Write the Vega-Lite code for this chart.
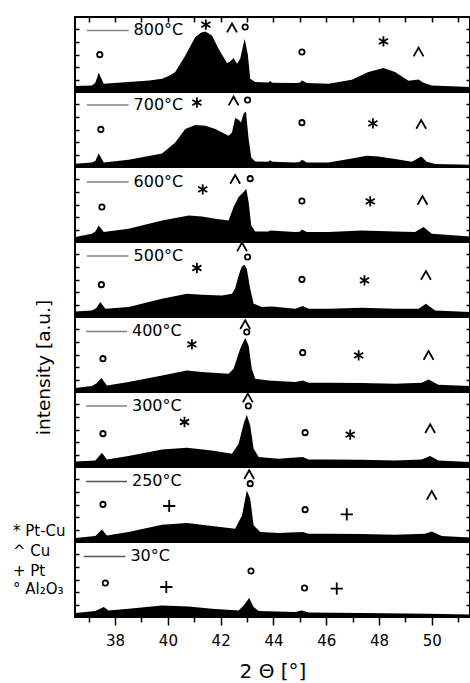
{
"$schema":"https://vega.github.io/schema/vega-lite/v6.json",
"padding":{"left":11,"top":14,"right":1,"bottom":2},
"bounds":"flush",
"spacing":0,
"config":{"font":"DejaVu Sans","view":{"stroke":"black","strokeWidth":2},"text":{"font":"DejaVu Sans","color":"black"},"axis":{"domain":false,"grid":false,"tickColor":"black","tickWidth":1.5,"labelFont":"DejaVu Sans","titleFont":"DejaVu Sans","titleFontWeight":"normal","labelColor":"black","titleColor":"black"}},
"datasets":{
"curves":[
{"temp":800,"theta":36.49,"v":0.48},{"temp":800,"theta":37.12,"v":0.53},{"temp":800,"theta":37.25,"v":0.75},{"temp":800,"theta":37.38,"v":1.55},{"temp":800,"theta":37.57,"v":0.67},{"temp":800,"theta":38.51,"v":0.80},{"temp":800,"theta":39.3,"v":0.92},{"temp":800,"theta":39.78,"v":1.07},{"temp":800,"theta":40.05,"v":1.3},{"temp":800,"theta":40.28,"v":1.60},{"temp":800,"theta":40.66,"v":2.93},{"temp":800,"theta":41.04,"v":4.40},{"temp":800,"theta":41.25,"v":4.75},{"temp":800,"theta":41.42,"v":4.85},{"temp":800,"theta":41.67,"v":4.53},{"temp":800,"theta":41.92,"v":3.47},{"temp":800,"theta":42.24,"v":2.32},{"temp":800,"theta":42.36,"v":2.45},{"temp":800,"theta":42.49,"v":2.72},{"temp":800,"theta":42.62,"v":2.27},{"temp":800,"theta":42.74,"v":2.67},{"temp":800,"theta":42.91,"v":4.27},{"temp":800,"theta":43.03,"v":3.00},{"temp":800,"theta":43.12,"v":1.07},{"temp":800,"theta":43.31,"v":0.80},{"temp":800,"theta":43.80,"v":0.76},{"temp":800,"theta":43.88,"v":0.88},{"temp":800,"theta":43.96,"v":0.74},{"temp":800,"theta":44.83,"v":0.72},{"temp":800,"theta":45.0,"v":0.75},{"temp":800,"theta":45.08,"v":0.93},{"temp":800,"theta":45.27,"v":0.72},{"temp":800,"theta":46.09,"v":0.67},{"temp":800,"theta":46.97,"v":0.98},{"temp":800,"theta":47.60,"v":1.60},{"temp":800,"theta":48.17,"v":1.92},{"temp":800,"theta":48.61,"v":1.60},{"temp":800,"theta":49.12,"v":0.90},{"temp":800,"theta":49.50,"v":1.00},{"temp":800,"theta":49.69,"v":0.75},{"temp":800,"theta":50.00,"v":0.53},{"temp":800,"theta":51.45,"v":0.40},
{"temp":700,"theta":36.49,"v":0.27},{"temp":700,"theta":37.12,"v":0.37},{"temp":700,"theta":37.25,"v":0.48},{"temp":700,"theta":37.38,"v":1.09},{"temp":700,"theta":37.57,"v":0.37},{"temp":700,"theta":38.51,"v":0.59},{"temp":700,"theta":39.78,"v":1.09},{"temp":700,"theta":40.28,"v":1.97},{"temp":700,"theta":40.66,"v":3.04},{"temp":700,"theta":41.04,"v":3.36},{"temp":700,"theta":41.42,"v":3.31},{"temp":700,"theta":41.80,"v":3.04},{"temp":700,"theta":42.30,"v":2.51},{"temp":700,"theta":42.43,"v":2.77},{"temp":700,"theta":42.55,"v":3.92},{"temp":700,"theta":42.68,"v":3.79},{"temp":700,"theta":42.77,"v":3.57},{"temp":700,"theta":42.87,"v":4.29},{"temp":700,"theta":42.96,"v":4.45},{"temp":700,"theta":43.06,"v":2.24},{"temp":700,"theta":43.16,"v":0.77},{"temp":700,"theta":43.31,"v":0.45},{"temp":700,"theta":43.80,"v":0.43},{"temp":700,"theta":43.88,"v":0.55},{"temp":700,"theta":43.96,"v":0.42},{"temp":700,"theta":44.83,"v":0.37},{"temp":700,"theta":45.0,"v":0.40},{"temp":700,"theta":45.08,"v":0.59},{"temp":700,"theta":45.27,"v":0.37},{"temp":700,"theta":46.09,"v":0.37},{"temp":700,"theta":46.97,"v":0.69},{"temp":700,"theta":47.54,"v":0.91},{"temp":700,"theta":47.98,"v":0.85},{"temp":700,"theta":48.61,"v":0.64},{"temp":700,"theta":49.25,"v":0.43},{"temp":700,"theta":49.60,"v":0.85},{"temp":700,"theta":49.81,"v":0.43},{"temp":700,"theta":50.13,"v":0.24},{"temp":700,"theta":51.45,"v":0.19},
{"temp":600,"theta":36.49,"v":0.40},{"temp":600,"theta":37.12,"v":0.67},{"temp":600,"theta":37.25,"v":0.85},{"temp":600,"theta":37.38,"v":1.33},{"temp":600,"theta":37.57,"v":0.80},{"temp":600,"theta":38.51,"v":1.07},{"temp":600,"theta":39.78,"v":1.73},{"temp":600,"theta":40.79,"v":2.13},{"temp":600,"theta":41.29,"v":2.05},{"temp":600,"theta":41.80,"v":1.87},{"temp":600,"theta":42.30,"v":1.73},{"temp":600,"theta":42.49,"v":2.80},{"temp":600,"theta":42.68,"v":3.60},{"temp":600,"theta":42.87,"v":4.00},{"temp":600,"theta":42.97,"v":4.27},{"temp":600,"theta":43.06,"v":3.20},{"temp":600,"theta":43.16,"v":1.33},{"temp":600,"theta":43.31,"v":0.85},{"temp":600,"theta":43.80,"v":0.85},{"temp":600,"theta":43.88,"v":0.93},{"temp":600,"theta":44.83,"v":0.80},{"temp":600,"theta":45.0,"v":0.82},{"temp":600,"theta":45.08,"v":1.01},{"temp":600,"theta":45.27,"v":0.80},{"temp":600,"theta":46.09,"v":0.80},{"temp":600,"theta":47.35,"v":0.93},{"temp":600,"theta":48.61,"v":0.85},{"temp":600,"theta":49.37,"v":0.80},{"temp":600,"theta":49.69,"v":1.20},{"temp":600,"theta":50.00,"v":0.67},{"temp":600,"theta":51.45,"v":0.45},
{"temp":500,"theta":36.49,"v":0.45},{"temp":500,"theta":37.12,"v":0.53},{"temp":500,"theta":37.28,"v":0.70},{"temp":500,"theta":37.44,"v":1.20},{"temp":500,"theta":37.63,"v":0.67},{"temp":500,"theta":38.51,"v":0.80},{"temp":500,"theta":39.78,"v":1.47},{"temp":500,"theta":40.72,"v":1.87},{"temp":500,"theta":41.29,"v":1.79},{"temp":500,"theta":42.05,"v":1.73},{"temp":500,"theta":42.43,"v":1.87},{"temp":500,"theta":42.55,"v":2.30},{"temp":500,"theta":42.68,"v":3.30},{"temp":500,"theta":42.80,"v":4.05},{"temp":500,"theta":42.90,"v":4.19},{"temp":500,"theta":42.99,"v":3.87},{"temp":500,"theta":43.12,"v":2.27},{"temp":500,"theta":43.25,"v":1.07},{"temp":500,"theta":43.56,"v":0.80},{"temp":500,"theta":43.94,"v":0.85},{"temp":500,"theta":44.83,"v":0.67},{"temp":500,"theta":45.11,"v":0.88},{"temp":500,"theta":45.33,"v":0.67},{"temp":500,"theta":46.09,"v":0.67},{"temp":500,"theta":47.35,"v":0.75},{"temp":500,"theta":48.61,"v":0.67},{"temp":500,"theta":49.50,"v":0.67},{"temp":500,"theta":49.78,"v":1.07},{"temp":500,"theta":50.13,"v":0.53},{"temp":500,"theta":51.45,"v":0.40},
{"temp":400,"theta":36.49,"v":0.32},{"temp":400,"theta":37.12,"v":0.48},{"temp":400,"theta":37.30,"v":0.70},{"temp":400,"theta":37.48,"v":1.12},{"temp":400,"theta":37.69,"v":0.53},{"temp":400,"theta":38.51,"v":0.80},{"temp":400,"theta":39.78,"v":1.33},{"temp":400,"theta":40.72,"v":1.73},{"temp":400,"theta":41.29,"v":1.60},{"temp":400,"theta":42.30,"v":1.47},{"temp":400,"theta":42.49,"v":1.87},{"temp":400,"theta":42.74,"v":3.47},{"temp":400,"theta":42.93,"v":4.32},{"temp":400,"theta":43.06,"v":3.73},{"temp":400,"theta":43.18,"v":1.87},{"temp":400,"theta":43.31,"v":1.07},{"temp":400,"theta":43.81,"v":0.93},{"temp":400,"theta":44.83,"v":0.80},{"temp":400,"theta":45.11,"v":0.93},{"temp":400,"theta":45.33,"v":0.75},{"temp":400,"theta":46.09,"v":0.75},{"temp":400,"theta":47.35,"v":0.72},{"temp":400,"theta":48.61,"v":0.67},{"temp":400,"theta":49.62,"v":0.75},{"temp":400,"theta":49.88,"v":1.01},{"temp":400,"theta":50.25,"v":0.59},{"temp":400,"theta":51.45,"v":0.48},
{"temp":300,"theta":36.49,"v":0.45},{"temp":300,"theta":37.25,"v":0.53},{"temp":300,"theta":37.50,"v":1.15},{"temp":300,"theta":37.69,"v":0.61},{"temp":300,"theta":38.51,"v":0.88},{"temp":300,"theta":39.78,"v":1.41},{"temp":300,"theta":40.72,"v":1.55},{"temp":300,"theta":41.67,"v":1.33},{"temp":300,"theta":42.43,"v":1.07},{"temp":300,"theta":42.68,"v":1.87},{"temp":300,"theta":42.87,"v":3.47},{"temp":300,"theta":42.99,"v":4.19},{"temp":300,"theta":43.12,"v":3.33},{"temp":300,"theta":43.25,"v":1.47},{"temp":300,"theta":43.44,"v":0.80},{"temp":300,"theta":44.19,"v":0.67},{"temp":300,"theta":45.11,"v":0.80},{"temp":300,"theta":45.33,"v":0.61},{"temp":300,"theta":46.09,"v":0.61},{"temp":300,"theta":47.35,"v":0.59},{"temp":300,"theta":48.61,"v":0.53},{"temp":300,"theta":49.62,"v":0.61},{"temp":300,"theta":49.94,"v":0.88},{"temp":300,"theta":50.25,"v":0.53},{"temp":300,"theta":51.45,"v":0.40},
{"temp":250,"theta":36.49,"v":0.32},{"temp":250,"theta":37.25,"v":0.48},{"temp":250,"theta":37.50,"v":1.01},{"temp":250,"theta":37.69,"v":0.53},{"temp":250,"theta":38.51,"v":0.80},{"temp":250,"theta":39.78,"v":1.39},{"temp":250,"theta":40.72,"v":1.52},{"temp":250,"theta":41.67,"v":1.28},{"temp":250,"theta":42.55,"v":1.07},{"temp":250,"theta":42.81,"v":2.13},{"temp":250,"theta":42.99,"v":4.13},{"temp":250,"theta":43.12,"v":3.47},{"temp":250,"theta":43.25,"v":1.33},{"temp":250,"theta":43.50,"v":0.80},{"temp":250,"theta":44.19,"v":0.72},{"temp":250,"theta":45.11,"v":0.80},{"temp":250,"theta":45.33,"v":0.67},{"temp":250,"theta":46.09,"v":0.67},{"temp":250,"theta":47.35,"v":0.64},{"temp":250,"theta":48.61,"v":0.59},{"temp":250,"theta":49.75,"v":0.67},{"temp":250,"theta":50.00,"v":0.85},{"temp":250,"theta":50.38,"v":0.48},{"temp":250,"theta":51.45,"v":0.37},
{"temp":30,"theta":36.49,"v":0.32},{"temp":30,"theta":37.25,"v":0.48},{"temp":30,"theta":37.57,"v":0.80},{"temp":30,"theta":37.75,"v":0.53},{"temp":30,"theta":38.51,"v":0.67},{"temp":30,"theta":39.78,"v":0.93},{"temp":30,"theta":40.79,"v":0.85},{"temp":30,"theta":41.67,"v":0.67},{"temp":30,"theta":42.68,"v":0.53},{"temp":30,"theta":42.87,"v":0.93},{"temp":30,"theta":43.08,"v":1.52},{"temp":30,"theta":43.25,"v":0.80},{"temp":30,"theta":43.44,"v":0.48},{"temp":30,"theta":44.83,"v":0.40},{"temp":30,"theta":45.08,"v":0.53},{"temp":30,"theta":45.33,"v":0.37},{"temp":30,"theta":47.35,"v":0.32},{"temp":30,"theta":49.88,"v":0.27},{"temp":30,"theta":51.45,"v":0.21}
],
"labels":[
{"temp":800,"theta":36.93,"theta2":38.51,"v":4.93,"label":"800°C"},
{"temp":700,"theta":36.93,"theta2":38.51,"v":4.96,"label":"700°C"},
{"temp":600,"theta":36.93,"theta2":38.51,"v":4.80,"label":"600°C"},
{"temp":500,"theta":36.93,"theta2":38.51,"v":4.88,"label":"500°C"},
{"temp":400,"theta":36.90,"theta2":38.45,"v":4.85,"label":"400°C"},
{"temp":300,"theta":36.90,"theta2":38.45,"v":4.88,"label":"300°C"},
{"temp":250,"theta":36.90,"theta2":38.45,"v":4.85,"label":"250°C"},
{"temp":30,"theta":36.81,"theta2":38.39,"v":4.85,"label":"30°C"}
],
"ann":[
{"temp":800,"theta":37.42,"v":2.99,"sym":"circle"},{"temp":800,"theta":41.44,"v":5.39,"sym":"asterisk"},{"temp":800,"theta":42.43,"v":5.12,"sym":"caret"},{"temp":800,"theta":42.93,"v":5.2,"sym":"circle"},{"temp":800,"theta":45.08,"v":3.2,"sym":"circle"},{"temp":800,"theta":48.17,"v":4.05,"sym":"asterisk"},{"temp":800,"theta":49.50,"v":3.2,"sym":"caret"},
{"temp":700,"theta":37.46,"v":3.01,"sym":"circle"},{"temp":700,"theta":41.10,"v":5.15,"sym":"asterisk"},{"temp":700,"theta":42.49,"v":5.28,"sym":"caret"},{"temp":700,"theta":43.02,"v":5.36,"sym":"circle"},{"temp":700,"theta":45.08,"v":3.55,"sym":"circle"},{"temp":700,"theta":47.77,"v":3.49,"sym":"asterisk"},{"temp":700,"theta":49.60,"v":3.41,"sym":"caret"},
{"temp":600,"theta":37.50,"v":2.8,"sym":"circle"},{"temp":600,"theta":41.32,"v":4.21,"sym":"asterisk"},{"temp":600,"theta":42.55,"v":5.01,"sym":"caret"},{"temp":600,"theta":43.12,"v":5.07,"sym":"circle"},{"temp":600,"theta":45.08,"v":3.28,"sym":"circle"},{"temp":600,"theta":47.67,"v":3.25,"sym":"asterisk"},{"temp":600,"theta":49.65,"v":3.33,"sym":"caret"},
{"temp":500,"theta":37.48,"v":2.59,"sym":"circle"},{"temp":500,"theta":41.10,"v":3.92,"sym":"asterisk"},{"temp":500,"theta":42.81,"v":5.6,"sym":"caret"},{"temp":500,"theta":43.02,"v":4.8,"sym":"circle"},{"temp":500,"theta":45.08,"v":3.01,"sym":"circle"},{"temp":500,"theta":47.45,"v":2.93,"sym":"asterisk"},{"temp":500,"theta":49.78,"v":3.33,"sym":"caret"},
{"temp":400,"theta":37.54,"v":2.67,"sym":"circle"},{"temp":400,"theta":40.91,"v":3.81,"sym":"asterisk"},{"temp":400,"theta":42.93,"v":5.39,"sym":"caret"},{"temp":400,"theta":42.99,"v":4.8,"sym":"circle"},{"temp":400,"theta":45.11,"v":3.15,"sym":"circle"},{"temp":400,"theta":47.23,"v":2.93,"sym":"asterisk"},{"temp":400,"theta":49.88,"v":2.93,"sym":"caret"},
{"temp":300,"theta":37.54,"v":2.67,"sym":"circle"},{"temp":300,"theta":40.63,"v":3.6,"sym":"asterisk"},{"temp":300,"theta":43.03,"v":5.52,"sym":"caret"},{"temp":300,"theta":43.05,"v":4.88,"sym":"circle"},{"temp":300,"theta":45.20,"v":2.75,"sym":"circle"},{"temp":300,"theta":46.91,"v":2.59,"sym":"asterisk"},{"temp":300,"theta":49.94,"v":3.07,"sym":"caret"},
{"temp":250,"theta":37.54,"v":3.01,"sym":"circle"},{"temp":250,"theta":40.05,"v":2.88,"sym":"plus"},{"temp":250,"theta":43.08,"v":5.39,"sym":"caret"},{"temp":250,"theta":43.12,"v":4.67,"sym":"circle"},{"temp":250,"theta":45.20,"v":2.59,"sym":"circle"},{"temp":250,"theta":46.78,"v":2.21,"sym":"plus"},{"temp":250,"theta":50.0,"v":3.73,"sym":"caret"},
{"temp":30,"theta":37.63,"v":2.72,"sym":"circle"},{"temp":30,"theta":39.94,"v":2.4,"sym":"plus"},{"temp":30,"theta":43.15,"v":3.68,"sym":"circle"},{"temp":30,"theta":45.18,"v":2.32,"sym":"circle"},{"temp":30,"theta":46.40,"v":2.27,"sym":"plus"}
],
"legend":[
{"temp":250,"theta":34.13,"v":0.48,"label":"* Pt-Cu"},
{"temp":30,"theta":34.13,"v":4.88,"label":"^ Cu"},
{"temp":30,"theta":34.13,"v":3.28,"label":"+ Pt"},
{"temp":30,"theta":34.13,"v":1.84,"label":"° Al₂O₃"}
]
},
"vconcat":[
{"width":395,"height":75,
 "encoding":{"x":{"field":"theta","type":"quantitative","scale":{"domain":[36.48,51.45],"nice":false,"zero":false},"axis":null},"y":{"field":"v","type":"quantitative","scale":{"domain":[0,6],"nice":false,"zero":false},"axis":null}},
 "layer":[
  {"data":{"name":"curves"},"transform":[{"filter":"datum.temp==800"}],"mark":{"type":"area","color":"black"},
   "encoding":{"x":{"field":"theta","type":"quantitative","scale":{"domain":[36.48,51.45],"nice":false,"zero":false},"axis":{"orient":"top","values":[37,38,39,40,41,42,43,44,45,46,47,48,49,50,51],"tickSize":-5,"labels":false,"title":null}},
    "y":{"field":"v","type":"quantitative","scale":{"domain":[0,6],"nice":false,"zero":false},"axis":{"orient":"left","values":[1,2,3,4,5],"tickSize":-4,"labels":false,"title":null}}}},
  {"data":{"name":"labels"},"transform":[{"filter":"datum.temp==800"}],"mark":{"type":"rule","color":"#808080","strokeWidth":1.5},"encoding":{"x2":{"field":"theta2"}}},
  {"data":{"name":"labels"},"transform":[{"filter":"datum.temp==800"}],"mark":{"type":"text","align":"left","baseline":"middle","dx":5,"fontSize":16},"encoding":{"x":{"field":"theta2","type":"quantitative"},"text":{"field":"label"}}},
  {"data":{"name":"ann"},"transform":[{"filter":"datum.temp==800"}],"mark":{"type":"point","filled":false,"color":"black","strokeWidth":1.8,"opacity":1},
   "encoding":{"y":{"field":"v","type":"quantitative","scale":{"domain":[0,6],"nice":false,"zero":false},"axis":{"orient":"right","values":[1,2,3,4,5],"tickSize":-4,"labels":false,"title":null}},
    "shape":{"field":"sym","type":"nominal","scale":{"domain":["asterisk","caret","plus","circle"],"range":["M0,-1L0,1M-0.87,-0.5L0.87,0.5M-0.87,0.5L0.87,-0.5","M-0.9,0.8L0,-0.8L0.9,0.8","M-1,0L1,0M0,-1L0,1","circle"]},"legend":null},
    "size":{"field":"sym","type":"nominal","scale":{"type":"ordinal","domain":["asterisk","caret","plus","circle"],"range":[110,120,150,28]},"legend":null}}}
 ],
 "resolve":{"axis":{"y":"independent","x":"independent"}}},
{"width":395,"height":75,
 "encoding":{"x":{"field":"theta","type":"quantitative","scale":{"domain":[36.48,51.45],"nice":false,"zero":false},"axis":null},"y":{"field":"v","type":"quantitative","scale":{"domain":[0,6],"nice":false,"zero":false},"axis":null}},
 "layer":[
  {"data":{"name":"curves"},"transform":[{"filter":"datum.temp==700"}],"mark":{"type":"area","color":"black"},
   "encoding":{"y":{"field":"v","type":"quantitative","scale":{"domain":[0,6],"nice":false,"zero":false},"axis":{"orient":"left","values":[1,2,3,4,5],"tickSize":-4,"labels":false,"title":null}}}},
  {"data":{"name":"labels"},"transform":[{"filter":"datum.temp==700"}],"mark":{"type":"rule","color":"#808080","strokeWidth":1.5},"encoding":{"x2":{"field":"theta2"}}},
  {"data":{"name":"labels"},"transform":[{"filter":"datum.temp==700"}],"mark":{"type":"text","align":"left","baseline":"middle","dx":5,"fontSize":16},"encoding":{"x":{"field":"theta2","type":"quantitative"},"text":{"field":"label"}}},
  {"data":{"name":"ann"},"transform":[{"filter":"datum.temp==700"}],"mark":{"type":"point","filled":false,"color":"black","strokeWidth":1.8,"opacity":1},
   "encoding":{"y":{"field":"v","type":"quantitative","scale":{"domain":[0,6],"nice":false,"zero":false},"axis":{"orient":"right","values":[1,2,3,4,5],"tickSize":-4,"labels":false,"title":null}},
    "shape":{"field":"sym","type":"nominal","scale":{"domain":["asterisk","caret","plus","circle"],"range":["M0,-1L0,1M-0.87,-0.5L0.87,0.5M-0.87,0.5L0.87,-0.5","M-0.9,0.8L0,-0.8L0.9,0.8","M-1,0L1,0M0,-1L0,1","circle"]},"legend":null},
    "size":{"field":"sym","type":"nominal","scale":{"type":"ordinal","domain":["asterisk","caret","plus","circle"],"range":[110,120,150,28]},"legend":null}}}
 ],
 "resolve":{"axis":{"y":"independent","x":"independent"}}},
{"width":395,"height":75,
 "encoding":{"x":{"field":"theta","type":"quantitative","scale":{"domain":[36.48,51.45],"nice":false,"zero":false},"axis":null},"y":{"field":"v","type":"quantitative","scale":{"domain":[0,6],"nice":false,"zero":false},"axis":null}},
 "layer":[
  {"data":{"name":"curves"},"transform":[{"filter":"datum.temp==600"}],"mark":{"type":"area","color":"black"},
   "encoding":{"y":{"field":"v","type":"quantitative","scale":{"domain":[0,6],"nice":false,"zero":false},"axis":{"orient":"left","values":[1,2,3,4,5],"tickSize":-4,"labels":false,"title":null}}}},
  {"data":{"name":"labels"},"transform":[{"filter":"datum.temp==600"}],"mark":{"type":"rule","color":"#808080","strokeWidth":1.5},"encoding":{"x2":{"field":"theta2"}}},
  {"data":{"name":"labels"},"transform":[{"filter":"datum.temp==600"}],"mark":{"type":"text","align":"left","baseline":"middle","dx":5,"fontSize":16},"encoding":{"x":{"field":"theta2","type":"quantitative"},"text":{"field":"label"}}},
  {"data":{"name":"ann"},"transform":[{"filter":"datum.temp==600"}],"mark":{"type":"point","filled":false,"color":"black","strokeWidth":1.8,"opacity":1},
   "encoding":{"y":{"field":"v","type":"quantitative","scale":{"domain":[0,6],"nice":false,"zero":false},"axis":{"orient":"right","values":[1,2,3,4,5],"tickSize":-4,"labels":false,"title":null}},
    "shape":{"field":"sym","type":"nominal","scale":{"domain":["asterisk","caret","plus","circle"],"range":["M0,-1L0,1M-0.87,-0.5L0.87,0.5M-0.87,0.5L0.87,-0.5","M-0.9,0.8L0,-0.8L0.9,0.8","M-1,0L1,0M0,-1L0,1","circle"]},"legend":null},
    "size":{"field":"sym","type":"nominal","scale":{"type":"ordinal","domain":["asterisk","caret","plus","circle"],"range":[110,120,150,28]},"legend":null}}}
 ],
 "resolve":{"axis":{"y":"independent","x":"independent"}}},
{"width":395,"height":75,
 "encoding":{"x":{"field":"theta","type":"quantitative","scale":{"domain":[36.48,51.45],"nice":false,"zero":false},"axis":null},"y":{"field":"v","type":"quantitative","scale":{"domain":[0,6],"nice":false,"zero":false},"axis":null}},
 "layer":[
  {"data":{"name":"curves"},"transform":[{"filter":"datum.temp==500"}],"mark":{"type":"area","color":"black"},
   "encoding":{"y":{"field":"v","type":"quantitative","scale":{"domain":[0,6],"nice":false,"zero":false},"axis":{"orient":"left","values":[1,2,3,4,5],"tickSize":-4,"labels":false,"title":null}}}},
  {"data":{"name":"labels"},"transform":[{"filter":"datum.temp==500"}],"mark":{"type":"rule","color":"#808080","strokeWidth":1.5},"encoding":{"x2":{"field":"theta2"}}},
  {"data":{"name":"labels"},"transform":[{"filter":"datum.temp==500"}],"mark":{"type":"text","align":"left","baseline":"middle","dx":5,"fontSize":16},"encoding":{"x":{"field":"theta2","type":"quantitative"},"text":{"field":"label"}}},
  {"data":{"name":"ann"},"transform":[{"filter":"datum.temp==500"}],"mark":{"type":"point","filled":false,"color":"black","strokeWidth":1.8,"opacity":1},
   "encoding":{"y":{"field":"v","type":"quantitative","scale":{"domain":[0,6],"nice":false,"zero":false},"axis":{"orient":"right","values":[1,2,3,4,5],"tickSize":-4,"labels":false,"title":null}},
    "shape":{"field":"sym","type":"nominal","scale":{"domain":["asterisk","caret","plus","circle"],"range":["M0,-1L0,1M-0.87,-0.5L0.87,0.5M-0.87,0.5L0.87,-0.5","M-0.9,0.8L0,-0.8L0.9,0.8","M-1,0L1,0M0,-1L0,1","circle"]},"legend":null},
    "size":{"field":"sym","type":"nominal","scale":{"type":"ordinal","domain":["asterisk","caret","plus","circle"],"range":[110,120,150,28]},"legend":null}}}
 ],
 "resolve":{"axis":{"y":"independent","x":"independent"}}},
{"width":395,"height":75,
 "encoding":{"x":{"field":"theta","type":"quantitative","scale":{"domain":[36.48,51.45],"nice":false,"zero":false},"axis":null},"y":{"field":"v","type":"quantitative","scale":{"domain":[0,6],"nice":false,"zero":false},"axis":null}},
 "layer":[
  {"data":{"name":"curves"},"transform":[{"filter":"datum.temp==400"}],"mark":{"type":"area","color":"black"},
   "encoding":{"y":{"field":"v","type":"quantitative","scale":{"domain":[0,6],"nice":false,"zero":false},"axis":{"orient":"left","values":[1,2,3,4,5],"tickSize":-4,"labels":false,"title":"intensity [a.u.]","titleFontSize":18.5,"titleX":-26,"titleY":50,"titleAngle":270,"titleAlign":"center","titleBaseline":"alphabetic"}}}},
  {"data":{"name":"labels"},"transform":[{"filter":"datum.temp==400"}],"mark":{"type":"rule","color":"#808080","strokeWidth":1.5},"encoding":{"x2":{"field":"theta2"}}},
  {"data":{"name":"labels"},"transform":[{"filter":"datum.temp==400"}],"mark":{"type":"text","align":"left","baseline":"middle","dx":5,"fontSize":16},"encoding":{"x":{"field":"theta2","type":"quantitative"},"text":{"field":"label"}}},
  {"data":{"name":"ann"},"transform":[{"filter":"datum.temp==400"}],"mark":{"type":"point","filled":false,"color":"black","strokeWidth":1.8,"opacity":1},
   "encoding":{"y":{"field":"v","type":"quantitative","scale":{"domain":[0,6],"nice":false,"zero":false},"axis":{"orient":"right","values":[1,2,3,4,5],"tickSize":-4,"labels":false,"title":null}},
    "shape":{"field":"sym","type":"nominal","scale":{"domain":["asterisk","caret","plus","circle"],"range":["M0,-1L0,1M-0.87,-0.5L0.87,0.5M-0.87,0.5L0.87,-0.5","M-0.9,0.8L0,-0.8L0.9,0.8","M-1,0L1,0M0,-1L0,1","circle"]},"legend":null},
    "size":{"field":"sym","type":"nominal","scale":{"type":"ordinal","domain":["asterisk","caret","plus","circle"],"range":[110,120,150,28]},"legend":null}}}
 ],
 "resolve":{"axis":{"y":"independent","x":"independent"}}},
{"width":395,"height":75,
 "encoding":{"x":{"field":"theta","type":"quantitative","scale":{"domain":[36.48,51.45],"nice":false,"zero":false},"axis":null},"y":{"field":"v","type":"quantitative","scale":{"domain":[0,6],"nice":false,"zero":false},"axis":null}},
 "layer":[
  {"data":{"name":"curves"},"transform":[{"filter":"datum.temp==300"}],"mark":{"type":"area","color":"black"},
   "encoding":{"y":{"field":"v","type":"quantitative","scale":{"domain":[0,6],"nice":false,"zero":false},"axis":{"orient":"left","values":[1,2,3,4,5],"tickSize":-4,"labels":false,"title":null}}}},
  {"data":{"name":"labels"},"transform":[{"filter":"datum.temp==300"}],"mark":{"type":"rule","color":"#808080","strokeWidth":1.5},"encoding":{"x2":{"field":"theta2"}}},
  {"data":{"name":"labels"},"transform":[{"filter":"datum.temp==300"}],"mark":{"type":"text","align":"left","baseline":"middle","dx":5,"fontSize":16},"encoding":{"x":{"field":"theta2","type":"quantitative"},"text":{"field":"label"}}},
  {"data":{"name":"ann"},"transform":[{"filter":"datum.temp==300"}],"mark":{"type":"point","filled":false,"color":"black","strokeWidth":1.8,"opacity":1},
   "encoding":{"y":{"field":"v","type":"quantitative","scale":{"domain":[0,6],"nice":false,"zero":false},"axis":{"orient":"right","values":[1,2,3,4,5],"tickSize":-4,"labels":false,"title":null}},
    "shape":{"field":"sym","type":"nominal","scale":{"domain":["asterisk","caret","plus","circle"],"range":["M0,-1L0,1M-0.87,-0.5L0.87,0.5M-0.87,0.5L0.87,-0.5","M-0.9,0.8L0,-0.8L0.9,0.8","M-1,0L1,0M0,-1L0,1","circle"]},"legend":null},
    "size":{"field":"sym","type":"nominal","scale":{"type":"ordinal","domain":["asterisk","caret","plus","circle"],"range":[110,120,150,28]},"legend":null}}}
 ],
 "resolve":{"axis":{"y":"independent","x":"independent"}}},
{"width":395,"height":75,
 "encoding":{"x":{"field":"theta","type":"quantitative","scale":{"domain":[36.48,51.45],"nice":false,"zero":false},"axis":null},"y":{"field":"v","type":"quantitative","scale":{"domain":[0,6],"nice":false,"zero":false},"axis":null}},
 "layer":[
  {"data":{"name":"curves"},"transform":[{"filter":"datum.temp==250"}],"mark":{"type":"area","color":"black"},
   "encoding":{"y":{"field":"v","type":"quantitative","scale":{"domain":[0,6],"nice":false,"zero":false},"axis":{"orient":"left","values":[1,2,3,4,5],"tickSize":-4,"labels":false,"title":null}}}},
  {"data":{"name":"labels"},"transform":[{"filter":"datum.temp==250"}],"mark":{"type":"rule","color":"#555555","strokeWidth":1.5},"encoding":{"x2":{"field":"theta2"}}},
  {"data":{"name":"labels"},"transform":[{"filter":"datum.temp==250"}],"mark":{"type":"text","align":"left","baseline":"middle","dx":5,"fontSize":16},"encoding":{"x":{"field":"theta2","type":"quantitative"},"text":{"field":"label"}}},
  {"data":{"name":"legend"},"transform":[{"filter":"datum.temp==250"}],"mark":{"type":"text","align":"left","baseline":"alphabetic","fontSize":15},"encoding":{"text":{"field":"label"}}},
  {"data":{"name":"ann"},"transform":[{"filter":"datum.temp==250"}],"mark":{"type":"point","filled":false,"color":"black","strokeWidth":1.8,"opacity":1},
   "encoding":{"y":{"field":"v","type":"quantitative","scale":{"domain":[0,6],"nice":false,"zero":false},"axis":{"orient":"right","values":[1,2,3,4,5],"tickSize":-4,"labels":false,"title":null}},
    "shape":{"field":"sym","type":"nominal","scale":{"domain":["asterisk","caret","plus","circle"],"range":["M0,-1L0,1M-0.87,-0.5L0.87,0.5M-0.87,0.5L0.87,-0.5","M-0.9,0.8L0,-0.8L0.9,0.8","M-1,0L1,0M0,-1L0,1","circle"]},"legend":null},
    "size":{"field":"sym","type":"nominal","scale":{"type":"ordinal","domain":["asterisk","caret","plus","circle"],"range":[110,120,150,28]},"legend":null}}}
 ],
 "resolve":{"axis":{"y":"independent","x":"independent"}}},
{"width":395,"height":75,
 "encoding":{"x":{"field":"theta","type":"quantitative","scale":{"domain":[36.48,51.45],"nice":false,"zero":false},"axis":null},"y":{"field":"v","type":"quantitative","scale":{"domain":[0,6],"nice":false,"zero":false},"axis":null}},
 "layer":[
  {"data":{"name":"curves"},"transform":[{"filter":"datum.temp==30"}],"mark":{"type":"area","color":"black"},
   "encoding":{"x":{"field":"theta","type":"quantitative","scale":{"domain":[36.48,51.45],"nice":false,"zero":false},"axis":{"orient":"bottom","values":[38,40,42,44,46,48,50],"tickSize":8,"labelFontSize":15,"labelPadding":8,"labelBaseline":"top","title":"2 Θ [°]","titleFontSize":20,"titleY":60,"titleBaseline":"alphabetic"}},
    "y":{"field":"v","type":"quantitative","scale":{"domain":[0,6],"nice":false,"zero":false},"axis":{"orient":"left","values":[1,2,3,4,5],"tickSize":-4,"labels":false,"title":null}}}},
  {"data":{"name":"labels"},"transform":[{"filter":"datum.temp==30"}],"mark":{"type":"rule","color":"#555555","strokeWidth":1.5},"encoding":{"x2":{"field":"theta2"}}},
  {"data":{"name":"labels"},"transform":[{"filter":"datum.temp==30"}],"mark":{"type":"text","align":"left","baseline":"middle","dx":5,"fontSize":16},"encoding":{"x":{"field":"theta2","type":"quantitative"},"text":{"field":"label"}}},
  {"data":{"name":"legend"},"transform":[{"filter":"datum.temp==30"}],"mark":{"type":"text","align":"left","baseline":"alphabetic","fontSize":15},"encoding":{"text":{"field":"label"}}},
  {"data":{"name":"ann"},"transform":[{"filter":"datum.temp==30"}],"mark":{"type":"point","filled":false,"color":"black","strokeWidth":1.8,"opacity":1},
   "encoding":{"x":{"field":"theta","type":"quantitative","scale":{"domain":[36.48,51.45],"nice":false,"zero":false},"axis":{"orient":"bottom","values":[37,39,41,43,45,47,49,51],"tickSize":5,"labels":false,"title":null}},
    "y":{"field":"v","type":"quantitative","scale":{"domain":[0,6],"nice":false,"zero":false},"axis":{"orient":"right","values":[1,2,3,4,5],"tickSize":-4,"labels":false,"title":null}},
    "shape":{"field":"sym","type":"nominal","scale":{"domain":["asterisk","caret","plus","circle"],"range":["M0,-1L0,1M-0.87,-0.5L0.87,0.5M-0.87,0.5L0.87,-0.5","M-0.9,0.8L0,-0.8L0.9,0.8","M-1,0L1,0M0,-1L0,1","circle"]},"legend":null},
    "size":{"field":"sym","type":"nominal","scale":{"type":"ordinal","domain":["asterisk","caret","plus","circle"],"range":[110,120,150,28]},"legend":null}}}
 ],
 "resolve":{"axis":{"y":"independent","x":"independent"}}}
]
}
